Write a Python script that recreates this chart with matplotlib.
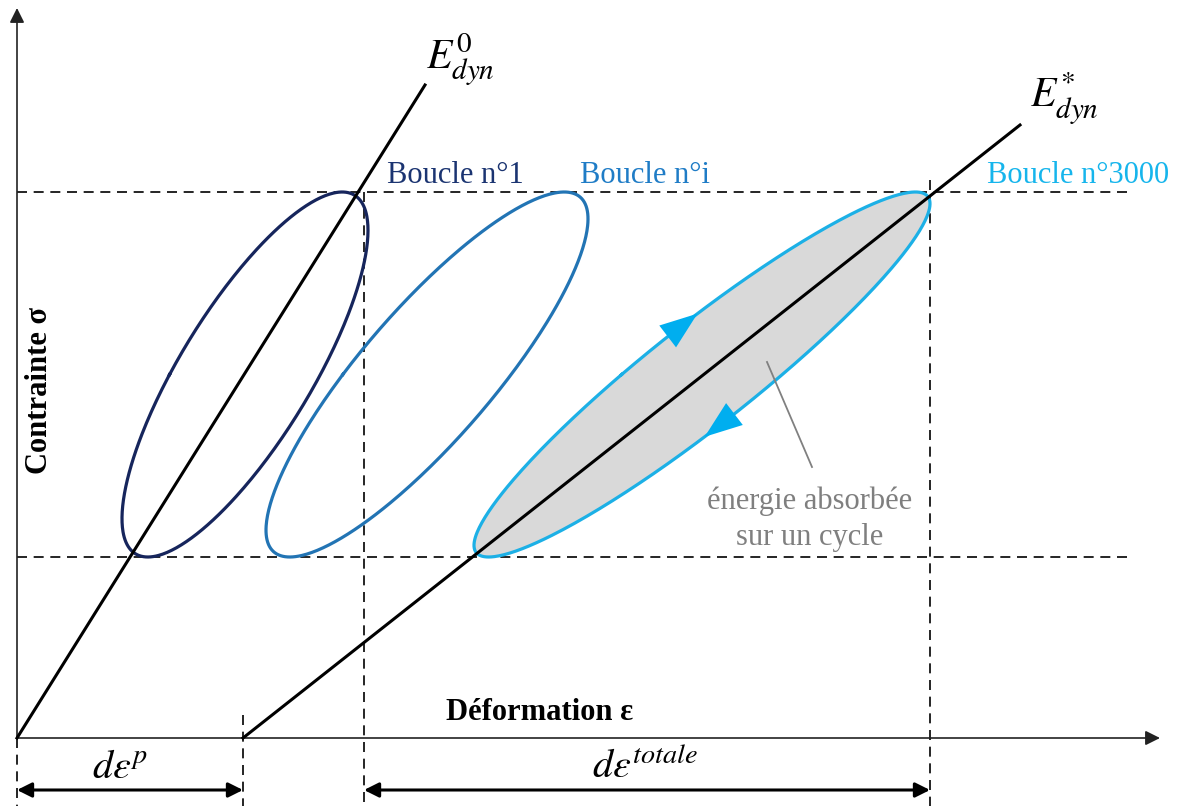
import numpy as np
import matplotlib
matplotlib.use('Agg')
import matplotlib.pyplot as plt

plt.rcParams['font.family'] = ['Liberation Serif', 'DejaVu Serif']
plt.rcParams['mathtext.fontset'] = 'stix'

# schematic geometry, in picture units (x to the right, y downwards)
origin = (17, 738)
x_axis_end = 1160
y_axis_end = 8
e0_x = [17, 425]
e0_y = [738, 85]
estar_x = [243, 1020]
estar_y = [738, 125]
sigma_max = 192
sigma_min = 557
dash_x_end = 1130
eps_p = [17, 243]
eps_tot = [364, 930]
dim_y = 790

# hysteresis loops: sigma = sc - sa*sin(t), eps = ec + ea*sin(t - phi)
loop_names = ['Boucle n°1', 'Boucle n°i', 'Boucle n°3000']
loop_eps_c = [245, 427, 702]
loop_eps_a = [123, 161, 228]
loop_phase = [0.66, 0.55, 0.36]
loop_colors = ['#16255c', '#2274b4', '#1cb0e6']
label_colors = ['#1b3471', '#1f7cc6', '#16b5ec']
label_x = [387, 580, 987]
label_y = 183
arrow_t = [0.30, 3.45]

sig_c = (sigma_max + sigma_min) / 2
sig_a = (sigma_min - sigma_max) / 2


def loop_xy(i, t):
    x = loop_eps_c[i] + loop_eps_a[i] * np.sin(t - loop_phase[i])
    y = sig_c - sig_a * np.sin(t)
    return x, y


fig = plt.figure(figsize=(11.87, 8.06), dpi=100)
ax = fig.add_axes([0, 0, 1, 1])
ax.set_xlim(0, 1187)
ax.set_ylim(806, 0)
ax.axis('off')

dash = dict(color='black', lw=1.2, ls=(0, (6, 4)))
# horizontal dashed levels
for s in [sigma_max, sigma_min]:
    ax.plot([origin[0], dash_x_end], [s, s], **dash, zorder=1)
# vertical dashed marks
ax.plot([eps_p[0], eps_p[0]], [origin[1], 806], **dash)
ax.plot([eps_p[1], eps_p[1]], [715, 806], **dash)
ax.plot([eps_tot[0], eps_tot[0]], [sigma_max, 806], **dash, zorder=1)
ax.plot([eps_tot[1], eps_tot[1]], [180, 806], **dash, zorder=1)

# axes arrows
arr_ax = dict(arrowstyle='-|>', color='#222222', lw=1.2, mutation_scale=22,
              shrinkA=0, shrinkB=0)
ax.annotate('', xy=(x_axis_end, origin[1]), xytext=origin, arrowprops=arr_ax)
ax.annotate('', xy=(origin[0], y_axis_end), xytext=origin, arrowprops=arr_ax)

# loops
t = np.linspace(0, 2 * np.pi, 400)
for i in range(3):
    x, y = loop_xy(i, t)
    if i == 2:
        ax.fill(x, y, color='#d9d9d9', zorder=2)
    ax.plot(x, y, color=loop_colors[i], lw=2.3, zorder=3)
    ax.text(label_x[i], label_y, loop_names[i], color=label_colors[i],
            fontsize=22, ha='left', va='baseline', zorder=5)

# direction arrows on last loop
for ta in arrow_t:
    x0, y0 = loop_xy(2, ta - 0.04)
    x1, y1 = loop_xy(2, ta + 0.04)
    ax.annotate('', xy=(x1, y1), xytext=(x0, y0),
                arrowprops=dict(arrowstyle='-|>,head_length=0.9,head_width=0.33',
                                color='#00aeef', lw=0,
                                mutation_scale=30, shrinkA=0, shrinkB=0),
                zorder=6)

# modulus lines
ax.plot(e0_x, e0_y, color='black', lw=2.2, zorder=4)
ax.plot(estar_x, estar_y, color='black', lw=2.2, zorder=4)
ax.text(460, 60, r'$E^{0}_{dyn}$', fontsize=30, ha='center', va='center')
ax.text(1064, 98, r'$E^{*}_{dyn}$', fontsize=30, ha='center', va='center')

# annotation energy
ax.plot([767, 812], [362, 467], color='#808080', lw=1.3, zorder=5)
ax.text(810, 519, 'énergie absorbée\nsur un cycle', color='#7f7f7f',
        fontsize=22, ha='center', va='center', linespacing=1.3)

# axis titles
ax.text(540, 713, 'Déformation ε', fontsize=22, fontweight='bold',
        ha='center', va='center')
ax.text(40, 390, 'Contrainte σ', fontsize=22, fontweight='bold',
        rotation=90, ha='center', va='center')

# dimension arrows
dim = dict(arrowstyle='<|-|>', color='black', lw=2.2, mutation_scale=22,
           shrinkA=0, shrinkB=0)
ax.annotate('', xy=(eps_p[1], dim_y), xytext=(eps_p[0], dim_y), arrowprops=dim)
ax.annotate('', xy=(eps_tot[1], dim_y), xytext=(eps_tot[0], dim_y), arrowprops=dim)
ax.text(120, 768, r'$d\varepsilon^{p}$', fontsize=29, ha='center', va='center')
ax.text(645, 768, r'$d\varepsilon^{totale}$', fontsize=29, ha='center', va='center')

fig.savefig('out.png', dpi=100)
